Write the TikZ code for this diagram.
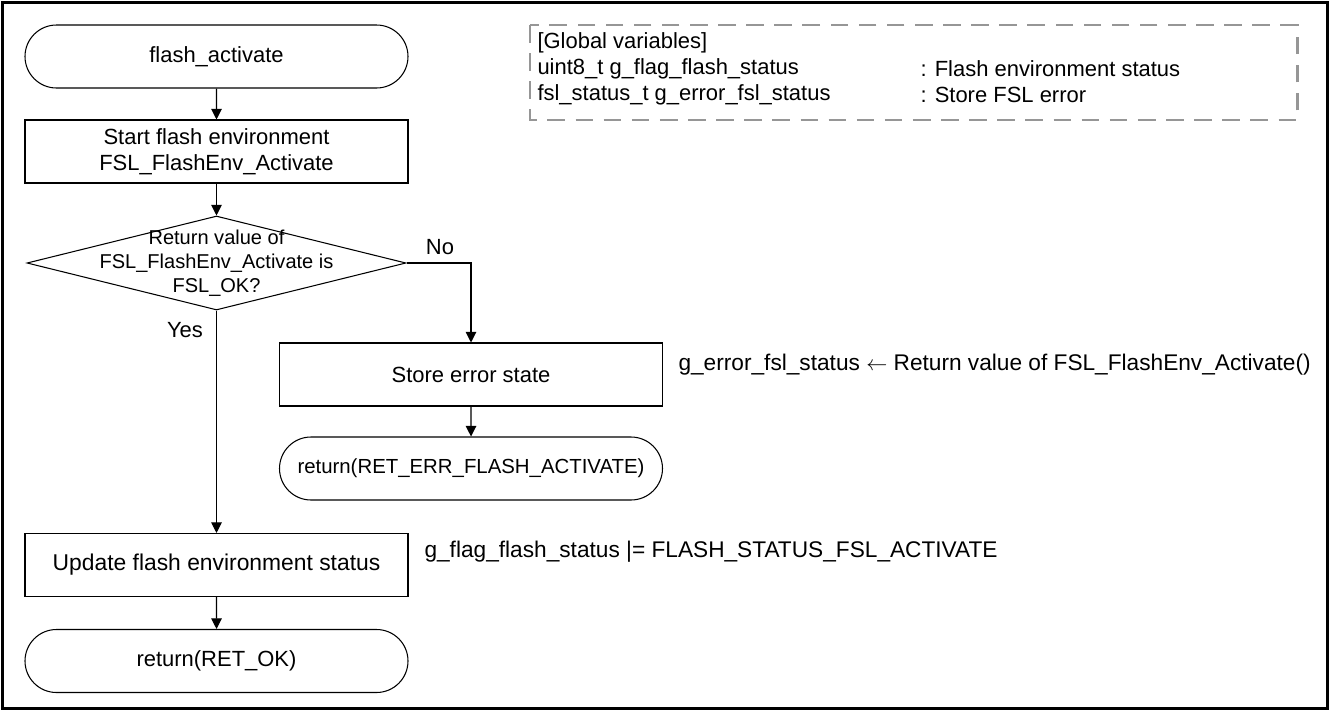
\documentclass[tikz,border=0pt]{standalone}
\usepackage{fontspec}
\setmainfont{Liberation Sans}
\usepackage{xcolor}
\usepackage{tikz}
\usetikzlibrary{shapes,arrows,positioning,calc,arrows.meta}

\definecolor{gvgray}{RGB}{150,150,150}

\tikzset{
    term/.style={draw, rounded rectangle, minimum width=7.66cm, minimum height=1.26cm, inner sep=0pt},
    proc/.style={draw, rectangle, minimum width=7.66cm, minimum height=1.26cm, inner sep=0pt, align=center},
    decide/.style={draw, diamond, minimum width=7.58cm, minimum height=1.88cm, inner sep=0pt},
    flow/.style={-{Triangle[length=6pt,width=6pt]}},
    note/.style={anchor=west, inner sep=0pt},
    gvbox/.style={draw=gvgray, line width=1.7pt, dash pattern=on 10pt off 6pt},
}

\begin{document}
\begin{tikzpicture}[x=2cm, y=2cm, line width=0.6pt, font=\fontsize{12.5}{14.7}\selectfont]
        \useasboundingbox (0,0) rectangle (13.3,-7.11);
        \draw[line width=1.7pt] (0.025,-0.025) rectangle (13.275,-7.085);

        % Main flow
        \node[term] (start) at (2.165,-0.565) {flash\_activate};
        \node[proc] (act) at (2.165,-1.515) {Start flash environment\\FSL\_FlashEnv\_Activate};
        \node[decide] (dec) at (2.165,-2.63) {};
        \node[align=center, font=\fontsize{11.4}{13.6}\selectfont] (dectxt) at (dec) {Return value of\\FSL\_FlashEnv\_Activate is\\FSL\_OK?};
        \node[proc, font=\fontsize{13}{15}\selectfont] (upd) at (2.165,-5.65) {Update flash environment status};
        \node[term] (retok) at (2.165,-6.61) {return(RET\_OK)};

        % Error branch
        \node[proc] (err) at (4.71,-3.745) {Store error state};
        \node[term, font=\fontsize{11.6}{14}\selectfont] (reterr) at (4.71,-4.685) {return(RET\_ERR\_FLASH\_ACTIVATE)};

        \node (no) at (4.40,-2.47) {No};
        \node (yes) at (1.85,-3.30) {Yes};

        \draw[flow] (start) -- (act);
        \draw[flow] (act) -- (dec);
        \draw[flow] (dec.east) -| (err.north);
        \draw[flow] (err) -- (reterr);
        \draw[flow] (dec.south) -- (upd.north);
        \draw[flow] (upd) -- (retok);

        % Notes beside the boxes
        \node[note, font=\fontsize{12.9}{15}\selectfont] (errnote) at (6.78,-3.65) {g\_error\_fsl\_status $\leftarrow$ Return value of FSL\_FlashEnv\_Activate()};
        \node[note, font=\fontsize{12.9}{15}\selectfont] (flagnote) at (4.24,-5.52) {g\_flag\_flash\_status |= FLASH\_STATUS\_FSL\_ACTIVATE};

        % Global variables
        \draw[gvbox] (5.30,-0.25) rectangle (12.97,-1.20);
        \node[note] (gtitle) at (5.37,-0.43) {[Global variables]};
        \node[note] (gv1) at (5.37,-0.69) {uint8\_t g\_flag\_flash\_status};
        \node[note] (gv1d) at (9.20,-0.69) {: Flash environment status};
        \node[note] (gv2) at (5.37,-0.95) {fsl\_status\_t g\_error\_fsl\_status};
        \node[note] (gv2d) at (9.20,-0.95) {: Store FSL error};
\end{tikzpicture}
\end{document}
